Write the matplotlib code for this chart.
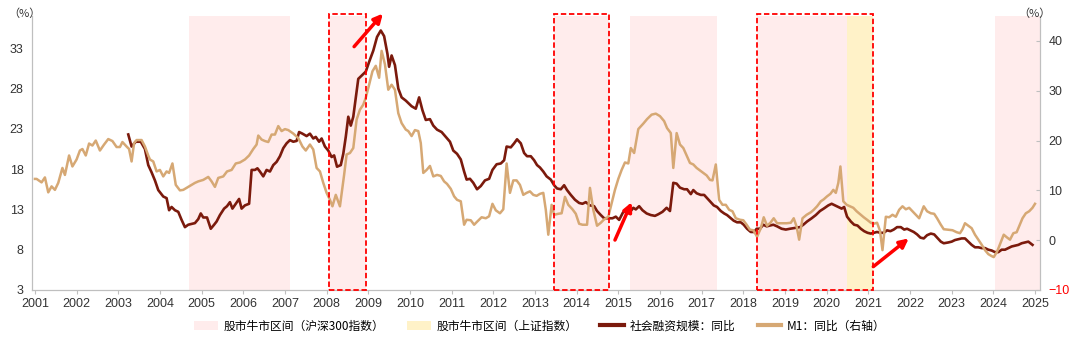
import matplotlib
matplotlib.use("Agg")
import matplotlib.pyplot as plt
from matplotlib.patches import Patch, Rectangle
from matplotlib.lines import Line2D

plt.rcParams['font.family'] = ['Liberation Sans', 'Noto Sans CJK SC', 'DejaVu Sans']

# ── data (decimal year, %) ────────────────────────────────────────────────
tsf_t = [2003.24, 2003.32, 2003.42, 2003.54, 2003.64, 2003.72, 2003.80, 2003.88, 2003.96,
         2004.08, 2004.16, 2004.22, 2004.28, 2004.36, 2004.44, 2004.52, 2004.60, 2004.68,
         2004.76, 2004.84, 2004.92, 2004.98, 2005.04, 2005.13, 2005.22, 2005.30, 2005.36,
         2005.44, 2005.54, 2005.61, 2005.68, 2005.74, 2005.82, 2005.90, 2005.96, 2006.04,
         2006.14, 2006.20, 2006.28, 2006.34, 2006.40, 2006.48, 2006.56, 2006.64, 2006.72,
         2006.80, 2006.88, 2006.96, 2007.04, 2007.12, 2007.20, 2007.28, 2007.34, 2007.42,
         2007.52, 2007.60, 2007.68, 2007.74, 2007.82, 2007.88, 2007.96, 2008.04, 2008.12,
         2008.18, 2008.25, 2008.34, 2008.40, 2008.46, 2008.52, 2008.58, 2008.64, 2008.70,
         2008.76, 2008.84, 2008.94, 2009.02, 2009.12, 2009.21, 2009.30, 2009.38, 2009.46,
         2009.50, 2009.56, 2009.64, 2009.72, 2009.80, 2009.90, 2009.98, 2010.04, 2010.14,
         2010.22, 2010.30, 2010.38, 2010.48, 2010.56, 2010.65, 2010.76, 2010.86, 2010.96,
         2011.04, 2011.13, 2011.22, 2011.30, 2011.36, 2011.44, 2011.52, 2011.61, 2011.70,
         2011.80, 2011.90, 2011.98, 2012.08, 2012.18, 2012.26, 2012.32, 2012.42, 2012.50,
         2012.57, 2012.66, 2012.74, 2012.81, 2012.90, 2012.98, 2013.05, 2013.12, 2013.20,
         2013.28, 2013.38, 2013.46, 2013.53, 2013.62, 2013.70, 2013.77, 2013.86, 2013.96,
         2014.06, 2014.14, 2014.22, 2014.32, 2014.42, 2014.49, 2014.58, 2014.66, 2014.86,
         2014.94, 2015.02, 2015.11, 2015.21, 2015.30, 2015.36, 2015.42, 2015.50, 2015.58,
         2015.68, 2015.78, 2015.88, 2015.96, 2016.06, 2016.16, 2016.24, 2016.32, 2016.40,
         2016.48, 2016.58, 2016.65, 2016.74, 2016.80, 2016.88, 2016.98, 2017.06, 2017.13,
         2017.22, 2017.29, 2017.37, 2017.46, 2017.54, 2017.61, 2017.70, 2017.77, 2017.85,
         2017.94, 2018.01, 2018.09, 2018.18, 2018.26, 2018.32, 2018.40, 2018.48, 2018.56,
         2018.64, 2018.72, 2018.81, 2018.92, 2019.02, 2019.12, 2019.36, 2019.44, 2019.53,
         2019.64, 2019.74, 2019.84, 2019.93, 2020.04, 2020.12, 2020.20, 2020.28, 2020.36,
         2020.42, 2020.49, 2020.58, 2020.66, 2020.74, 2020.82, 2020.90, 2020.98, 2021.06,
         2021.13, 2021.21, 2021.29, 2021.37, 2021.45, 2021.53, 2021.61, 2021.69, 2021.78,
         2021.86, 2021.93, 2022.01, 2022.09, 2022.17, 2022.25, 2022.33, 2022.41, 2022.50,
         2022.58, 2022.65, 2022.74, 2022.81, 2022.92, 2023.00, 2023.08, 2023.16, 2023.24,
         2023.32, 2023.40, 2023.48, 2023.56, 2023.64, 2023.72, 2023.80, 2023.88, 2023.96,
         2024.04, 2024.12, 2024.20, 2024.28, 2024.36, 2024.44, 2024.52, 2024.60, 2024.68,
         2024.76, 2024.84, 2024.94]
tsf_v = [22.3, 20.8, 21.4, 21.4, 20.5, 18.5, 17.6, 16.6, 15.4,
         14.6, 14.4, 12.9, 13.3, 12.9, 12.7, 11.7, 10.8, 11.1,
         11.2, 11.3, 11.8, 12.5, 12.0, 12.0, 10.6, 11.1, 11.5,
         12.3, 13.1, 13.4, 13.9, 13.1, 13.7, 14.3, 13.1, 13.5,
         13.7, 17.9, 17.9, 18.1, 17.7, 17.1, 17.9, 17.7, 18.5,
         18.9, 19.6, 20.6, 21.2, 21.6, 21.4, 21.5, 22.6, 22.4,
         22.1, 22.4, 21.8, 22.0, 21.4, 21.8, 20.8, 20.3, 19.5,
         19.7, 18.3, 18.5, 19.9, 22.0, 24.5, 23.4, 24.5, 26.8,
         29.2, 29.6, 30.1, 31.3, 32.7, 34.4, 35.2, 34.5, 32.3,
         30.7, 32.1, 30.9, 28.0, 26.9, 26.5, 26.1, 25.8, 25.5,
         26.9, 25.3, 24.1, 24.2, 23.4, 22.9, 22.6, 22.0, 21.4,
         20.3, 19.9, 19.2, 17.7, 16.7, 16.8, 16.3, 15.5, 15.9,
         16.6, 16.8, 17.9, 18.6, 18.7, 19.1, 20.8, 20.7, 21.2,
         21.7, 21.2, 20.0, 19.6, 19.6, 19.1, 18.5, 18.2, 17.7,
         17.1, 16.7, 16.0, 15.6, 15.5, 16.0, 15.4, 14.8, 14.2,
         13.8, 13.7, 13.9, 13.5, 13.4, 12.8, 12.3, 11.9, 11.9,
         12.1, 11.7, 12.6, 13.0, 12.8, 13.2, 13.0, 13.4, 12.9,
         12.5, 12.3, 12.2, 12.4, 12.7, 13.2, 12.8, 16.3, 16.2,
         15.7, 15.5, 15.5, 14.9, 15.4, 15.0, 14.8, 14.8, 14.4,
         13.9, 13.5, 13.3, 12.8, 12.5, 12.3, 11.9, 11.6, 11.4,
         11.4, 11.1, 10.6, 10.2, 10.2, 10.6, 10.6, 11.1, 10.9,
         11.0, 11.1, 10.9, 10.6, 10.5, 10.6, 10.8, 11.1, 11.5,
         11.9, 12.3, 12.8, 13.1, 13.5, 13.7, 13.5, 13.3, 13.1,
         13.3, 12.1, 11.5, 11.1, 11.0, 10.6, 10.3, 10.1, 10.0,
         10.1, 10.2, 10.1, 10.1, 10.4, 10.3, 10.5, 10.8, 10.8,
         10.5, 10.6, 10.4, 10.2, 9.9, 9.5, 9.4, 9.8, 10.0,
         9.9, 9.5, 9.0, 8.8, 8.9, 9.0, 9.2, 9.3, 9.4,
         9.4, 9.0, 8.6, 8.3, 8.3, 8.2, 8.2, 8.0, 7.9,
         7.7, 7.7, 8.0, 8.0, 8.2, 8.4, 8.5, 8.6, 8.8,
         8.9, 9.0, 8.6]

m1_t = [2001.00, 2001.04, 2001.16, 2001.24, 2001.32, 2001.40, 2001.48, 2001.56, 2001.66,
        2001.72, 2001.82, 2001.90, 2002.00, 2002.08, 2002.14, 2002.22, 2002.30, 2002.38,
        2002.46, 2002.56, 2002.66, 2002.76, 2002.86, 2002.96, 2003.04, 2003.10, 2003.20,
        2003.26, 2003.32, 2003.38, 2003.44, 2003.56, 2003.64, 2003.72, 2003.76, 2003.84,
        2003.92, 2004.00, 2004.08, 2004.16, 2004.22, 2004.30, 2004.38, 2004.48, 2004.56,
        2004.68, 2004.76, 2004.84, 2004.92, 2005.04, 2005.16, 2005.24, 2005.32, 2005.40,
        2005.52, 2005.61, 2005.72, 2005.82, 2005.92, 2006.04, 2006.14, 2006.24, 2006.32,
        2006.36, 2006.44, 2006.52, 2006.60, 2006.68, 2006.76, 2006.84, 2006.92, 2007.00,
        2007.08, 2007.20, 2007.32, 2007.42, 2007.50, 2007.60, 2007.68, 2007.76, 2007.84,
        2007.92, 2008.00, 2008.08, 2008.14, 2008.22, 2008.32, 2008.42, 2008.48, 2008.56,
        2008.64, 2008.72, 2008.80, 2008.88, 2008.94, 2009.02, 2009.10, 2009.18, 2009.26,
        2009.32, 2009.40, 2009.48, 2009.56, 2009.64, 2009.72, 2009.80, 2009.90, 2009.96,
        2010.04, 2010.12, 2010.20, 2010.26, 2010.32, 2010.40, 2010.48, 2010.56, 2010.65,
        2010.74, 2010.82, 2010.89, 2010.98, 2011.06, 2011.13, 2011.22, 2011.30, 2011.36,
        2011.46, 2011.54, 2011.61, 2011.72, 2011.82, 2011.90, 2011.98, 2012.06, 2012.16,
        2012.24, 2012.32, 2012.40, 2012.48, 2012.56, 2012.64, 2012.72, 2012.80, 2012.88,
        2012.96, 2013.04, 2013.12, 2013.20, 2013.26, 2013.32, 2013.40, 2013.46, 2013.56,
        2013.64, 2013.72, 2013.80, 2013.90, 2013.98, 2014.06, 2014.14, 2014.25, 2014.32,
        2014.40, 2014.49, 2014.58, 2014.65, 2014.76, 2014.84, 2014.92, 2015.00, 2015.08,
        2015.16, 2015.24, 2015.30, 2015.38, 2015.48, 2015.60, 2015.69, 2015.80, 2015.90,
        2016.00, 2016.10, 2016.17, 2016.26, 2016.32, 2016.40, 2016.48, 2016.56, 2016.64,
        2016.72, 2016.80, 2016.88, 2016.96, 2017.04, 2017.12, 2017.20, 2017.26, 2017.34,
        2017.42, 2017.50, 2017.58, 2017.66, 2017.74, 2017.82, 2017.92, 2018.00, 2018.08,
        2018.16, 2018.24, 2018.33, 2018.42, 2018.49, 2018.57, 2018.65, 2018.73, 2018.81,
        2018.92, 2019.04, 2019.14, 2019.21, 2019.28, 2019.34, 2019.42, 2019.52, 2019.62,
        2019.69, 2019.77, 2019.86, 2019.93, 2020.01, 2020.09, 2020.16, 2020.22, 2020.28,
        2020.33, 2020.40, 2020.48, 2020.56, 2020.64, 2020.72, 2020.82, 2020.89, 2020.97,
        2021.06, 2021.13, 2021.21, 2021.28, 2021.34, 2021.42, 2021.50, 2021.58, 2021.66,
        2021.74, 2021.82, 2021.90, 2021.98, 2022.06, 2022.14, 2022.22, 2022.33, 2022.41,
        2022.50, 2022.58, 2022.65, 2022.74, 2022.81, 2022.92, 2023.02, 2023.12, 2023.20,
        2023.26, 2023.32, 2023.40, 2023.48, 2023.56, 2023.64, 2023.72, 2023.80, 2023.88,
        2023.96, 2024.01, 2024.09, 2024.17, 2024.25, 2024.32, 2024.40, 2024.48, 2024.56,
        2024.62, 2024.70, 2024.78, 2024.86, 2024.94, 2025.00]
m1_v = [12.3, 12.3, 11.6, 12.6, 9.6, 10.8, 10.1, 11.5, 14.5,
        13.1, 17.0, 14.8, 16.2, 18.0, 18.3, 17.0, 19.4, 19.0,
        20.0, 18.0, 19.2, 20.3, 19.9, 18.7, 18.7, 19.7, 18.8,
        18.3, 15.8, 19.5, 20.1, 20.1, 18.8, 17.0, 16.2, 15.8,
        13.8, 14.1, 12.8, 13.8, 13.5, 15.4, 11.1, 10.0, 10.1,
        10.7, 11.1, 11.5, 11.8, 12.1, 12.7, 11.8, 10.7, 12.5,
        12.8, 13.8, 14.1, 15.4, 15.6, 16.2, 17.0, 18.3, 19.2,
        21.0, 20.2, 19.9, 19.7, 21.2, 21.2, 22.9, 21.9, 22.3,
        22.1, 21.4, 20.5, 18.8, 18.0, 19.2, 18.2, 14.5, 13.8,
        11.5, 9.5, 8.1, 6.8, 9.1, 6.8, 13.1, 17.2, 17.5,
        18.5, 24.2, 26.2, 27.2, 28.6, 31.2, 33.9, 35.0, 32.6,
        38.0, 35.3, 30.2, 31.2, 30.2, 25.5, 23.5, 22.2, 21.9,
        20.9, 22.1, 21.9, 19.5, 13.5, 14.1, 14.9, 12.8, 13.1,
        12.9, 11.8, 11.3, 10.3, 8.8, 8.1, 7.8, 3.1, 4.1,
        4.0, 3.1, 3.7, 4.6, 4.4, 4.8, 7.3, 6.0, 5.4,
        6.2, 15.4, 9.5, 12.0, 12.0, 11.1, 9.1, 9.5, 9.8,
        9.1, 8.9, 9.3, 9.5, 6.1, 1.1, 7.1, 5.1, 5.3,
        5.4, 8.7, 7.1, 6.2, 5.3, 3.3, 3.1, 3.1, 10.5,
        6.1, 2.9, 3.5, 4.1, 4.7, 7.4, 10.1, 12.3, 14.1,
        15.6, 15.4, 18.5, 17.5, 22.3, 23.4, 24.3, 25.2, 25.4,
        24.9, 23.9, 22.5, 21.5, 14.5, 21.5, 19.2, 18.5, 17.0,
        15.5, 15.2, 14.5, 14.0, 13.5, 13.0, 12.1, 12.0, 15.2,
        8.1, 7.1, 7.1, 6.1, 5.8, 4.4, 4.1, 4.0, 3.1,
        2.1, 2.0, 0.7, 2.4, 4.6, 2.9, 3.5, 4.4, 3.4,
        3.4, 3.4, 3.5, 4.4, 2.7, 0.1, 4.4, 5.1, 5.6,
        6.1, 6.8, 7.8, 8.2, 8.8, 9.3, 10.1, 9.5, 11.5,
        14.8, 7.8, 7.1, 6.8, 6.5, 5.8, 5.1, 4.6, 4.1,
        3.5, 3.3, 3.5, 1.9, -2.0, 4.7, 4.6, 5.1, 4.7,
        6.1, 6.8, 6.2, 6.5, 5.8, 5.1, 4.4, 6.8, 5.8,
        5.4, 5.3, 4.4, 3.1, 2.2, 2.1, 2.0, 1.6, 1.4,
        2.2, 3.4, 2.9, 2.4, 1.1, 0.1, -0.9, -2.0, -2.8,
        -3.2, -3.4, -2.3, -0.6, 1.1, 0.6, 0.1, 1.4, 1.6,
        2.8, 4.4, 5.4, 5.8, 6.5, 7.3]

# bull market periods
hs300_bull = [(2004.70, 2007.11), (2008.06, 2008.94), (2013.46, 2014.77),
              (2015.28, 2017.37), (2018.33, 2020.49), (2024.03, 2025.15)]
sh_bull = [(2020.49, 2021.12)]
# red dashed highlight boxes
boxes = [(2008.06, 2008.94), (2013.46, 2014.77), (2018.33, 2021.12)]
# arrows: (tail x, tail y, head x, head y) on left axis
arrows = [(2008.66, 33.2, 2009.35, 37.3), (2014.92, 9.2, 2015.32, 13.9),
          (2021.12, 5.9, 2021.97, 9.4)]
years = list(range(2001, 2026))

RED = "#7B1A0C"
TAN = "#D6A874"
PINK = "#FFECEC"
YELLOW = "#FFF2C8"

fig = plt.figure(figsize=(10.8, 3.4), dpi=100)
ax = fig.add_axes([32 / 1080, 50 / 340, 1008 / 1080, 274 / 340])
ax2 = ax.twinx()

for a, b in hs300_bull:
    ax.axvspan(a, b, color=PINK, lw=0, zorder=0)
for a, b in sh_bull:
    ax.axvspan(a, b, color=YELLOW, lw=0, zorder=0)

ax.plot(tsf_t, tsf_v, color=RED, lw=1.9, zorder=3)
ax2.plot(m1_t, m1_v, color=TAN, lw=1.8, zorder=2)

ax.set_xlim(2000.93, 2025.12)
ax.set_ylim(3, 37)
ax2.set_ylim(-10, 45)
ax.set_xticks(years)
ax.set_xticklabels([str(y) for y in years])
ax.set_yticks(range(3, 34, 5))
ax2.set_yticks(range(-10, 41, 10))

for a in (ax, ax2):
    a.spines['top'].set_visible(False)
    for s in ('left', 'right', 'bottom'):
        a.spines[s].set_color('#BFBFBF')
    a.tick_params(labelsize=9, colors='#333333', length=3, color='#BFBFBF')
ax.tick_params(axis='y', length=0, pad=6)
ax2.tick_params(axis='y', direction='in', length=3, pad=6)
ax.tick_params(axis='x', pad=3)
ax2.get_yticklabels()[0].set_color('red')

# dashed boxes and arrows drawn on the top axes (in left-axis data coords)
for a, b in boxes:
    r = Rectangle((a, 3), b - a, 34.3, transform=ax.transData, fill=False,
                  ec='#FF0000', ls=(0, (3, 1.5)), lw=1.3, clip_on=False, zorder=5)
    ax2.add_patch(r)
for x0, y0, x1, y1 in arrows:
    ax2.annotate("", xy=(x1, y1), xytext=(x0, y0), xycoords=ax.transData,
                 textcoords=ax.transData, annotation_clip=False,
                 arrowprops=dict(arrowstyle='-|>', color='#FF0000', lw=2.5,
                                 mutation_scale=13, shrinkA=0, shrinkB=0),
                 zorder=6)

fig.text(8 / 1080, 1 - 14 / 340, "（%）", fontsize=8, color='#333333',
         family=['Noto Sans CJK SC'], va='center', ha='left')
fig.text(1018 / 1080, 1 - 14 / 340, "（%）", fontsize=8, color='#333333',
         family=['Noto Sans CJK SC'], va='center', ha='left')

handles = [Patch(facecolor=PINK, edgecolor='none'),
           Patch(facecolor=YELLOW, edgecolor='none'),
           Line2D([], [], color=RED, lw=3),
           Line2D([], [], color=TAN, lw=3)]
labels = ["股市牛市区间（沪深300指数）", "股市牛市区间（上证指数）",
          "社会融资规模：同比", "M1：同比（右轴）"]
fig.legend(handles, labels, loc='center', bbox_to_anchor=(0.5, 1 - 326 / 340),
           ncol=4, frameon=False, handlelength=2.0,
           handleheight=0.7, handletextpad=0.5, columnspacing=1.9,
           prop={'family': ['Noto Sans CJK SC'], 'size': 8.5})

fig.savefig("out.png", dpi=100)
